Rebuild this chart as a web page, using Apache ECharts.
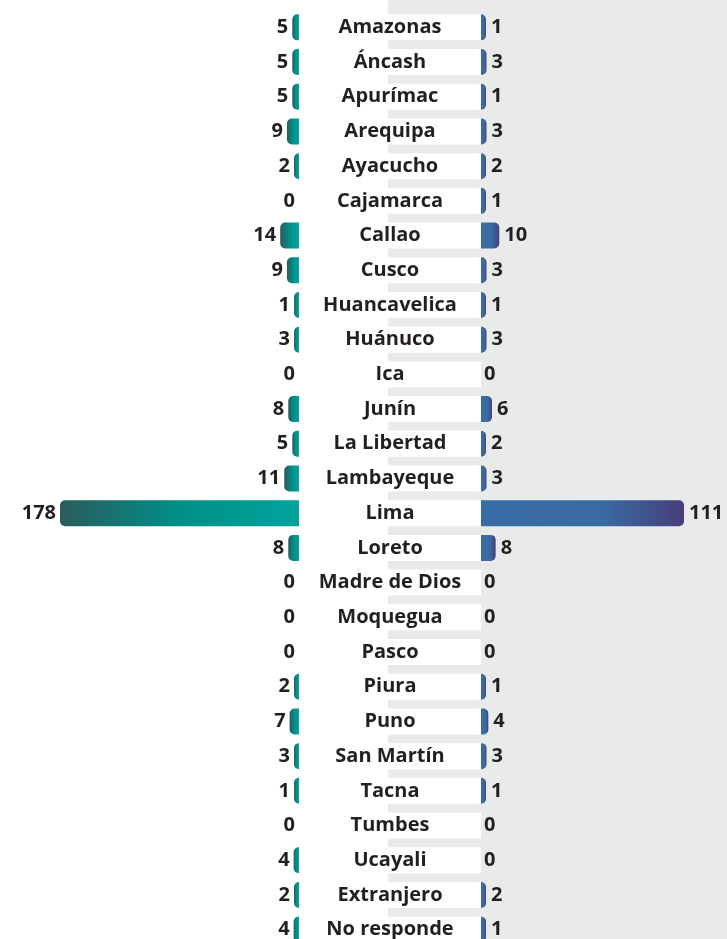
<!DOCTYPE html>
<html lang="es">
<head>
    <meta charset="UTF-8">
    <title>Regiones</title>
    <script src="https://cdn.jsdelivr.net/npm/echarts@6/dist/echarts.min.js"></script>
    <style>
        html, body { margin: 0; padding: 0; background: #fff; overflow: hidden; }
        #main { width: 727px; height: 952px; }
    </style>
</head>
<body>
    <div id="main"></div>
    <script>
        // datos
        var regiones = ['Amazonas', 'Áncash', 'Apurímac', 'Arequipa', 'Ayacucho', 'Cajamarca', 'Callao', 'Cusco',
            'Huancavelica', 'Huánuco', 'Ica', 'Junín', 'La Libertad', 'Lambayeque', 'Lima', 'Loreto',
            'Madre de Dios', 'Moquegua', 'Pasco', 'Piura', 'Puno', 'San Martín', 'Tacna', 'Tumbes',
            'Ucayali', 'Extranjero', 'No responde'];
        var izquierda = [5, 5, 5, 9, 2, 0, 14, 9, 1, 3, 0, 8, 5, 11, 178, 8, 0, 0, 0, 2, 7, 3, 1, 0, 4, 2, 4];
        var derecha = [1, 3, 1, 3, 2, 1, 10, 3, 1, 3, 0, 6, 2, 3, 111, 8, 0, 0, 0, 1, 4, 3, 1, 0, 0, 2, 1];

        var fuente = 'Open Sans';
        var texto = '#231f20';

        var verde = new echarts.graphic.LinearGradient(0, 0, 1, 0, [
            { offset: 0, color: '#2c5b5e' },
            { offset: 0.5, color: '#008f88' },
            { offset: 1, color: '#00a49c' }
        ]);
        var azul = new echarts.graphic.LinearGradient(0, 0, 1, 0, [
            { offset: 0, color: '#396ca5' },
            { offset: 0.6, color: '#3a6aa2' },
            { offset: 1, color: '#463f7a' }
        ]);

        // los ceros llevan barra transparente pero conservan su etiqueta
        function barras(vals, color, radio, dist0) {
            return vals.map(function (v) {
                var item = {
                    value: v,
                    itemStyle: { color: v === 0 ? 'rgba(0,0,0,0)' : color, borderRadius: radio }
                };
                if (v === 0) item.label = { distance: dist0 };
                return item;
            });
        }

        var chart = echarts.init(document.getElementById('main'));
        var gridTop = 10, gridH = 937;
        var yBase = { type: 'category', data: regiones, inverse: true, show: false };
        var etiqueta = { color: texto, fontFamily: fuente, fontWeight: 'bold', fontSize: 20 };

        chart.setOption({
            animation: false,
            graphic: [{
                type: 'rect', z: -10,
                shape: { x: 388, y: 0, width: 339, height: 952 },
                style: { fill: '#e8ebea' }
            }],
            grid: [
                { left: 60, width: 239, top: gridTop, height: gridH },
                { left: 299, width: 182, top: gridTop, height: gridH },
                { left: 481, width: 203, top: gridTop, height: gridH }
            ],
            xAxis: [
                { gridIndex: 0, type: 'value', inverse: true, min: 0, max: Math.max.apply(null, izquierda), show: false },
                { gridIndex: 1, type: 'value', min: 0, max: 1, show: false },
                { gridIndex: 2, type: 'value', min: 0, max: Math.max.apply(null, derecha), show: false }
            ],
            yAxis: [
                Object.assign({ gridIndex: 0 }, yBase),
                Object.assign({ gridIndex: 1 }, yBase),
                Object.assign({ gridIndex: 2 }, yBase)
            ],
            series: [
                {
                    type: 'bar', xAxisIndex: 0, yAxisIndex: 0,
                    barWidth: 26, barMinHeight: 5,
                    data: barras(izquierda, verde, [5, 0, 0, 5], 4),
                    label: Object.assign({ show: true, position: 'left', distance: 4 }, etiqueta)
                },
                {
                    type: 'bar', xAxisIndex: 1, yAxisIndex: 1,
                    barWidth: 26,
                    data: regiones.map(function () { return 1; }),
                    itemStyle: { color: '#ffffff' },
                    label: Object.assign({
                        show: true, position: 'inside',
                        formatter: function (p) { return p.name; }
                    }, etiqueta)
                },
                {
                    type: 'bar', xAxisIndex: 2, yAxisIndex: 2,
                    barWidth: 26, barMinHeight: 5,
                    data: barras(derecha, azul, [0, 5, 5, 0], -2),
                    label: Object.assign({ show: true, position: 'right', distance: 5 }, etiqueta)
                }
            ]
        });
    </script>
</body>
</html>
